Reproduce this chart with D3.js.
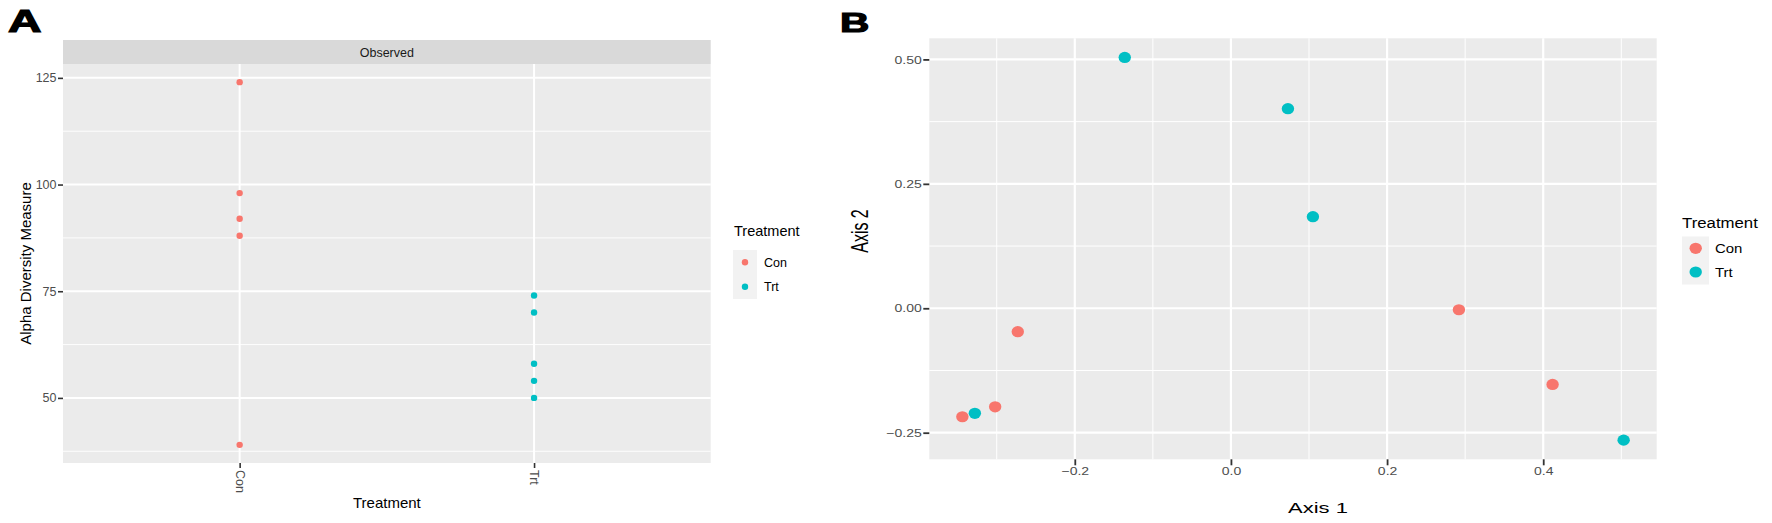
<!DOCTYPE html>
<html>
<head>
  <meta charset="utf-8">
  <title>Alpha diversity and ordination</title>
  <script src="https://d3js.org/d3.v7.min.js"></script>
  <style>
    body { margin: 0; background: #fff; }
    svg text { font-family: "Liberation Sans", Arial, sans-serif; }
  </style>
</head>
<body>
<div id="chart"></div>
<script>
  // categories and values
  var groups = ["Con", "Trt"];
  var groupColors = ["#F8766D", "#00BFC4"];

  // panel A: observed richness per sample
  var conObserved = [124, 98, 92, 88, 39];
  var trtObserved = [74, 70, 58, 54, 50];
  var yTicksA = [50, 75, 100, 125];

  // panel B: ordination coordinates
  var conAxis1 = [-0.344, -0.302, -0.273, 0.292, 0.412];
  var conAxis2 = [-0.218, -0.198, -0.047, -0.003, -0.153];
  var trtAxis1 = [-0.328, -0.136, 0.073, 0.105, 0.503];
  var trtAxis2 = [-0.211, 0.504, 0.401, 0.184, -0.265];
  var xTicksB = [-0.2, 0.0, 0.2, 0.4];
  var yTicksB = [-0.25, 0.0, 0.25, 0.50];

  var W = 1772, H = 523;
  var svg = d3.select("#chart").append("svg")
    .attr("width", W).attr("height", H);

  // ggplot style continuous expansion (5% each side)
  function expand(vals) {
    var lo = d3.min(vals), hi = d3.max(vals), pad = (hi - lo) * 0.05;
    return [lo - pad, hi + pad];
  }
  var minus = function (s) { return s.replace("-", "\u2212"); };

  // panel letters
  svg.append("text").attr("transform", "translate(8,32) scale(1.45,1)")
    .attr("font-size", 32).attr("font-weight", "bold")
    .attr("stroke", "#000").attr("stroke-width", 1.2).text("A");
  svg.append("text").attr("transform", "translate(840,32) scale(1.45,1)")
    .attr("font-size", 28).attr("font-weight", "bold")
    .attr("stroke", "#000").attr("stroke-width", 1.2).text("B");

  // ---------------- panel A ----------------
  var pA = { left: 63, right: 710.7, top: 64, bottom: 463 };
  var dataA = [];
  conObserved.forEach(function (v) { dataA.push({ g: "Con", v: v }); });
  trtObserved.forEach(function (v) { dataA.push({ g: "Trt", v: v }); });

  var xA = d3.scalePoint().domain(groups).range([pA.left, pA.right]).padding(0.6);
  var yA = d3.scaleLinear().domain(expand(dataA.map(d => d.v))).range([pA.bottom, pA.top]);
  var color = d3.scaleOrdinal().domain(groups).range(groupColors);

  // strip
  svg.append("rect").attr("x", pA.left).attr("y", 40)
    .attr("width", pA.right - pA.left).attr("height", 24).attr("fill", "#D9D9D9");
  svg.append("text").attr("x", (pA.left + pA.right) / 2).attr("y", 56.5)
    .attr("text-anchor", "middle").attr("font-size", 12.5).attr("fill", "#1A1A1A")
    .text("Observed");

  svg.append("rect").attr("x", pA.left).attr("y", pA.top)
    .attr("width", pA.right - pA.left).attr("height", pA.bottom - pA.top).attr("fill", "#EBEBEB");

  var minorA = yTicksA.map(t => t - 12.5).filter(t => t > yA.domain()[0]);
  svg.append("g").selectAll("line").data(minorA).join("line")
    .attr("x1", pA.left).attr("x2", pA.right)
    .attr("y1", d => yA(d)).attr("y2", d => yA(d))
    .attr("stroke", "#fff").attr("stroke-width", 0.9);
  svg.append("g").selectAll("line").data(yTicksA).join("line")
    .attr("x1", pA.left).attr("x2", pA.right)
    .attr("y1", d => yA(d)).attr("y2", d => yA(d))
    .attr("stroke", "#fff").attr("stroke-width", 2);
  svg.append("g").selectAll("line").data(groups).join("line")
    .attr("x1", d => xA(d)).attr("x2", d => xA(d))
    .attr("y1", pA.top).attr("y2", pA.bottom)
    .attr("stroke", "#fff").attr("stroke-width", 2);

  svg.append("g").selectAll("circle").data(dataA).join("circle")
    .attr("cx", d => xA(d.g)).attr("cy", d => yA(d.v)).attr("r", 3.2)
    .attr("fill", d => color(d.g));

  var axA_y = svg.append("g").attr("transform", "translate(" + pA.left + ",0)")
    .call(d3.axisLeft(yA).tickValues(yTicksA).tickSize(5).tickPadding(1.5));
  var axA_x = svg.append("g").attr("transform", "translate(0," + pA.bottom + ")")
    .call(d3.axisBottom(xA).tickSize(5));
  [axA_y, axA_x].forEach(function (ax) {
    ax.select(".domain").remove();
    ax.selectAll(".tick line").attr("stroke", "#333").attr("stroke-width", 1.6);
    ax.selectAll(".tick text").attr("fill", "#4D4D4D").attr("font-size", 12.5)
      .attr("font-family", "Liberation Sans, Arial, sans-serif");
  });
  axA_x.selectAll(".tick text")
    .attr("transform", "rotate(90)").attr("x", 7).attr("y", 0).attr("dy", "0.35em")
    .style("text-anchor", "start");

  svg.append("text").attr("x", (pA.left + pA.right) / 2).attr("y", 508)
    .attr("text-anchor", "middle").attr("font-size", 15).text("Treatment");
  svg.append("text")
    .attr("transform", "translate(31," + (pA.top + pA.bottom) / 2 + ") rotate(-90)")
    .attr("text-anchor", "middle").attr("font-size", 15).text("Alpha Diversity Measure");

  // legend A
  svg.append("text").attr("x", 734).attr("y", 236).attr("font-size", 14.5).text("Treatment");
  svg.append("rect").attr("x", 733).attr("y", 250).attr("width", 24).attr("height", 49)
    .attr("fill", "#F2F2F2");
  groups.forEach(function (g, i) {
    svg.append("circle").attr("cx", 745).attr("cy", 262.3 + i * 24.4).attr("r", 3.2)
      .attr("fill", color(g));
    svg.append("text").attr("x", 764).attr("y", 262.3 + i * 24.4).attr("dy", "0.36em")
      .attr("font-size", 12.5).text(g);
  });

  // ---------------- panel B ----------------
  var pB = { left: 929.3, right: 1656.7, top: 38.3, bottom: 459.3 };
  var dataB = [];
  conAxis1.forEach(function (v, i) { dataB.push({ g: "Con", x: v, y: conAxis2[i] }); });
  trtAxis1.forEach(function (v, i) { dataB.push({ g: "Trt", x: v, y: trtAxis2[i] }); });

  var xB = d3.scaleLinear().domain(expand(dataB.map(d => d.x))).range([pB.left, pB.right]);
  var yB = d3.scaleLinear().domain(expand(dataB.map(d => d.y))).range([pB.bottom, pB.top]);

  svg.append("rect").attr("x", pB.left).attr("y", pB.top)
    .attr("width", pB.right - pB.left).attr("height", pB.bottom - pB.top).attr("fill", "#EBEBEB");

  var minorBx = [-0.3, -0.1, 0.1, 0.3, 0.5];
  var minorBy = [-0.125, 0.125, 0.375];
  var gridB = svg.append("g");
  gridB.selectAll(".mx").data(minorBx).join("line").attr("class", "mx")
    .attr("x1", d => xB(d)).attr("x2", d => xB(d)).attr("y1", pB.top).attr("y2", pB.bottom)
    .attr("stroke", "#fff").attr("stroke-width", 1);
  gridB.selectAll(".my").data(minorBy).join("line").attr("class", "my")
    .attr("x1", pB.left).attr("x2", pB.right).attr("y1", d => yB(d)).attr("y2", d => yB(d))
    .attr("stroke", "#fff").attr("stroke-width", 1);
  gridB.selectAll(".Mx").data(xTicksB).join("line").attr("class", "Mx")
    .attr("x1", d => xB(d)).attr("x2", d => xB(d)).attr("y1", pB.top).attr("y2", pB.bottom)
    .attr("stroke", "#fff").attr("stroke-width", 2.2);
  gridB.selectAll(".My").data(yTicksB).join("line").attr("class", "My")
    .attr("x1", pB.left).attr("x2", pB.right).attr("y1", d => yB(d)).attr("y2", d => yB(d))
    .attr("stroke", "#fff").attr("stroke-width", 2.2);

  svg.append("g").selectAll("ellipse").data(dataB).join("ellipse")
    .attr("cx", d => xB(d.x)).attr("cy", d => yB(d.y)).attr("rx", 6.2).attr("ry", 5.6)
    .attr("fill", d => color(d.g));

  var axB_y = svg.append("g").attr("transform", "translate(" + pB.left + ",0)")
    .call(d3.axisLeft(yB).tickValues(yTicksB).tickSize(6)
      .tickFormat(d => minus(d3.format(".2f")(d))));
  var axB_x = svg.append("g").attr("transform", "translate(0," + pB.bottom + ")")
    .call(d3.axisBottom(xB).tickValues(xTicksB).tickSize(6)
      .tickFormat(d => minus(d3.format(".1f")(d))));
  [axB_y, axB_x].forEach(function (ax) {
    ax.select(".domain").remove();
    ax.selectAll(".tick line").attr("stroke", "#333").attr("stroke-width", 1.8);
    ax.selectAll(".tick text").attr("fill", "#4D4D4D").attr("font-size", 11.5)
      .attr("font-family", "Liberation Sans, Arial, sans-serif");
  });
  // the B panel is stretched sideways in the source figure
  axB_y.selectAll(".tick text").attr("x", -6.2).attr("transform", "scale(1.22,1)");
  axB_x.selectAll(".tick text").attr("y", 8).attr("transform", "scale(1.22,1)");

  svg.append("text").attr("transform", "translate(1318,513) scale(1.42,1)")
    .attr("text-anchor", "middle").attr("font-size", 15.5).text("Axis 1");
  svg.append("text").attr("transform", "translate(868,231) rotate(-90) scale(1,1.45)")
    .attr("text-anchor", "middle").attr("font-size", 16).text("Axis 2");

  // legend B
  svg.append("text").attr("transform", "translate(1682,228) scale(1.12,1)")
    .attr("font-size", 15).text("Treatment");
  svg.append("rect").attr("x", 1682).attr("y", 236.5).attr("width", 27).attr("height", 48)
    .attr("fill", "#F2F2F2");
  groups.forEach(function (g, i) {
    svg.append("ellipse").attr("cx", 1695.7).attr("cy", 248.3 + i * 23.7)
      .attr("rx", 6.2).attr("ry", 5.6).attr("fill", color(g));
    svg.append("text")
      .attr("transform", "translate(1715," + (248.3 + i * 23.7) + ") scale(1.15,1)")
      .attr("dy", "0.36em").attr("font-size", 13).text(g);
  });
</script>
</body>
</html>
